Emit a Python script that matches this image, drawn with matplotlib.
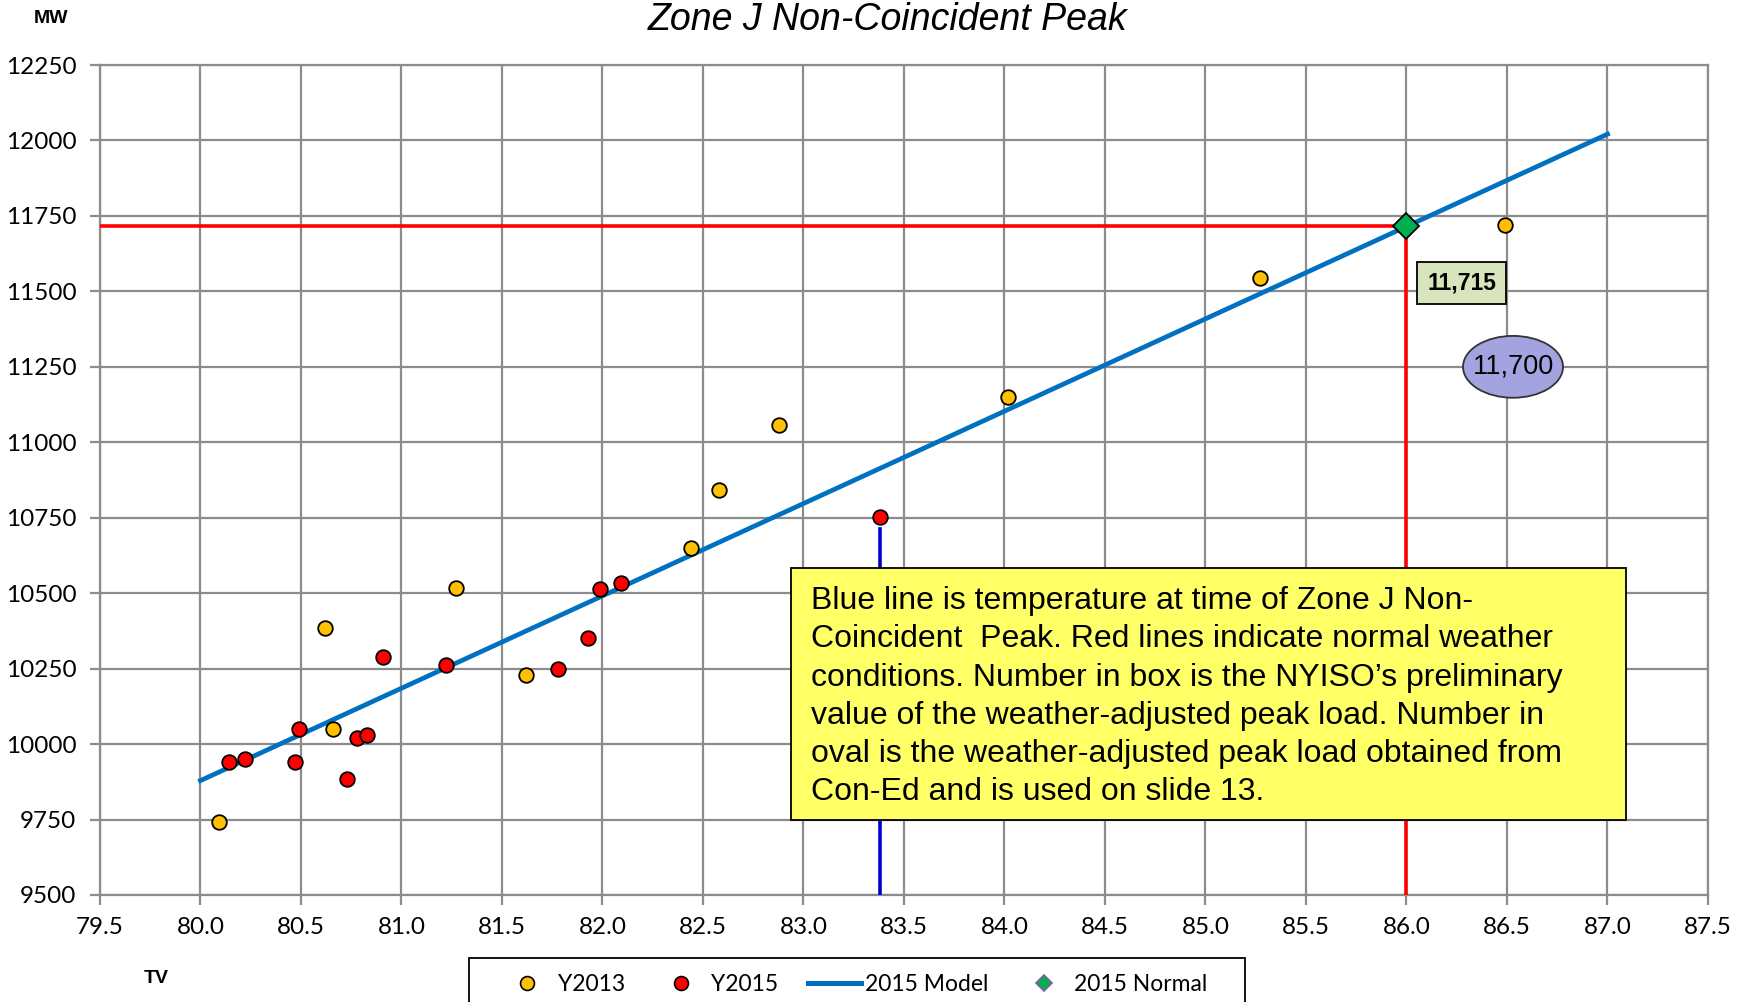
import matplotlib
matplotlib.use("Agg")
import matplotlib.pyplot as plt
from matplotlib.patches import Rectangle, Ellipse
from matplotlib.lines import Line2D
import numpy as np

# ---- data ----
y2013_tv = [80.09, 80.62, 80.66, 81.27, 81.62, 82.44, 82.58, 82.88, 84.02, 85.27, 86.49]
y2013_mw = [9743, 10383, 10050, 10517, 10228, 10650, 10843, 11057, 11150, 11543, 11720]

y2015_tv = [80.14, 80.22, 80.47, 80.49, 80.73, 80.78, 80.83, 80.91, 81.22, 81.78, 81.93, 81.99, 82.09, 83.38]
y2015_mw = [9939, 9950, 9939, 10050, 9883, 10020, 10031, 10287, 10261, 10250, 10350, 10513, 10535, 10754]

model_tv = [80.0, 87.0]
model_mw = [9879, 12021]

normal_tv = [86.0]
normal_mw = [11715]

peak_tv_2015 = 83.38
peak_mw_2015 = 10754

box_value = "11,715"
oval_value = "11,700"

x_ticks = [79.5 + 0.5 * i for i in range(17)]
y_ticks = [9500 + 250 * i for i in range(12)]

note = ("Blue line is temperature at time of Zone J Non-\n"
        "Coincident  Peak. Red lines indicate normal weather\n"
        "conditions. Number in box is the NYISO\u2019s preliminary\n"
        "value of the weather-adjusted peak load. Number in\n"
        "oval is the weather-adjusted peak load obtained from\n"
        "Con-Ed and is used on slide 13.")

# ---- figure ----
fig = plt.figure(figsize=(17.5, 10.02), dpi=100)
ax = fig.add_axes([0.0571, 0.1068, 0.9189, 0.8283])
ax.set_xlim(79.5, 87.5)
ax.set_ylim(9500, 12250)
ax.set_xticks(x_ticks)
ax.set_yticks(y_ticks)
ax.set_xticklabels([f"{v:.1f}" for v in x_ticks], fontfamily="Lato", fontsize=17.5)
ax.set_yticklabels([str(v) for v in y_ticks], fontfamily="Lato", fontsize=17.5)
ax.grid(True, color="#8c8c8c", linewidth=1.6)
ax.set_axisbelow(True)
for s in ax.spines.values():
    s.set_color("#8c8c8c")
    s.set_linewidth(1.6)
ax.tick_params(axis="both", colors="#8c8c8c", length=7, width=1.6, labelcolor="black")
ax.tick_params(axis="x", pad=9)
ax.tick_params(axis="y", pad=10)

# red normal-weather lines
ax.plot([79.5, normal_tv[0]], [normal_mw[0], normal_mw[0]], color="#FF0000", lw=2.6, zorder=3)
ax.plot([normal_tv[0], normal_tv[0]], [normal_mw[0], 9500], color="#FF0000", lw=2.6, zorder=3)
# blue temperature line
ax.plot([peak_tv_2015, peak_tv_2015], [peak_mw_2015 - 40, 9500], color="#0000CC", lw=2.6, zorder=3)

# model
ax.plot(model_tv, model_mw, color="#0070C0", lw=3.4, zorder=4)

# points
ax.plot(y2013_tv, y2013_mw, "o", ms=10.5, mfc="#FFC000", mec="black", mew=1.3, zorder=5, clip_on=False)
ax.plot(y2015_tv, y2015_mw, "o", ms=10.5, mfc="#FF0000", mec="black", mew=1.3, zorder=5, clip_on=False)
ax.plot(normal_tv, normal_mw, "D", ms=13, mfc="#00B050", mec="black", mew=1.3, zorder=6)

# note box
ax.add_patch(Rectangle((82.94, 9748), 87.09 - 82.94, 10583 - 9748, facecolor="#FFFF66",
                       edgecolor="black", lw=1.3, zorder=7))
ax.text(83.04, 10523, note, fontfamily="Liberation Sans", fontsize=23, va="top", ha="left",
        linespacing=1.355, zorder=8)

# value box
ax.add_patch(Rectangle((86.052, 11458), 0.443, 139, facecolor="#D8E4BC", edgecolor="black",
                       lw=1.3, zorder=7))
ax.text(86.2735, 11527, box_value, fontfamily="Liberation Sans", fontweight="bold", fontsize=16.5,
        ha="center", va="center", zorder=8)

# oval
ax.add_patch(Ellipse((86.53, 11250), 0.4975, 205, facecolor="#A3A3E0", edgecolor="#333333",
                     lw=1.3, zorder=7))
ax.text(86.53, 11250, oval_value, fontfamily="Liberation Sans", fontsize=19.5,
        ha="center", va="center", zorder=8)

# titles
fig.text(0.507, 0.98, "Zone J Non-Coincident Peak", fontfamily="Liberation Sans", style="italic",
         fontsize=27, ha="center", va="center")
fig.text(0.029, 0.982, "MW", fontfamily="Liberation Sans", fontweight="bold", fontsize=14,
         ha="center", va="center")
fig.text(0.089, 0.023, "TV", fontfamily="Liberation Sans", fontweight="bold", fontsize=14,
         ha="center", va="center")

# legend frame (drawn separately so it can run off the bottom edge like the original)
fig.patches.append(Rectangle((0.268, -0.05), 0.4434, 0.0939, transform=fig.transFigure,
                             facecolor="white", edgecolor="black", lw=1.3, zorder=1))

handles = [
    Line2D([], [], ls="none", marker="o", ms=10, mfc="#FFC000", mec="black", mew=1.2),
    Line2D([], [], ls="none", marker="o", ms=10, mfc="#FF0000", mec="black", mew=1.2),
    Line2D([], [], color="#0070C0", lw=3.6),
    Line2D([], [], ls="none", marker="D", ms=8.5, mfc="#00B050", mec="#7F60A0", mew=1.2),
]
labels = ["Y2013", "Y2015", "2015 Model", "2015 Normal"]
leg = fig.legend(handles, labels, loc="center left", bbox_to_anchor=(0.2863, 0.017), ncol=4,
                 frameon=False, borderpad=0, borderaxespad=0, handlelength=2.3,
                 columnspacing=1.3, handletextpad=0.17,
                 prop={"family": "Lato", "size": 16.5})
leg.set_zorder(2)

fig.savefig("out.png", dpi=100)
